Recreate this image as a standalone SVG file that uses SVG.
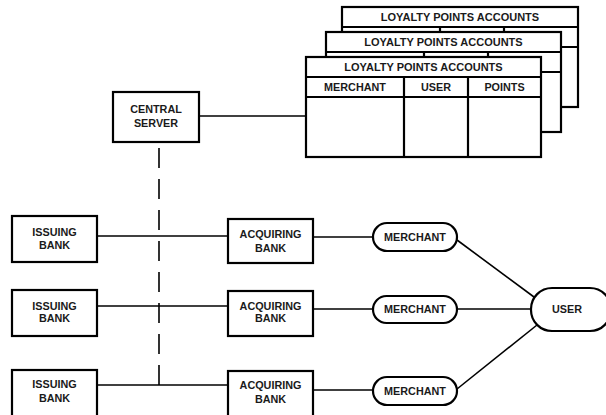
<svg xmlns="http://www.w3.org/2000/svg" width="606" height="415" viewBox="0 0 606 415">
<style>
.box{fill:#fff;stroke:#000;stroke-width:2.2}
.ln{fill:none;stroke:#000;stroke-width:1.6}
.th{fill:none;stroke:#000;stroke-width:2.2}
text{font-family:"Liberation Sans",Arial,sans-serif;font-weight:bold;font-size:10.8px;text-anchor:middle;fill:#1a1a1a}
.tt{font-size:11px}
</style>
<rect width="606" height="415" fill="#fff"/>
<g id="connectors">
<line class="ln" x1="199" y1="116" x2="306" y2="116"/>
<line class="ln" x1="159" y1="148" x2="159" y2="385" stroke-dasharray="20 11"/>
<line class="ln" x1="97" y1="236" x2="228" y2="236"/>
<line class="ln" x1="313" y1="237" x2="373" y2="237"/>
<line class="ln" x1="97" y1="306" x2="228" y2="306"/>
<line class="ln" x1="313" y1="309" x2="373" y2="309"/>
<line class="ln" x1="97" y1="385" x2="228" y2="385"/>
<line class="ln" x1="313" y1="390" x2="373" y2="390"/>
<line class="ln" x1="457" y1="240" x2="534" y2="297"/>
<line class="ln" x1="457" y1="309" x2="531" y2="309"/>
<line class="ln" x1="457" y1="389" x2="537" y2="325"/>
</g>
<g id="table-back" transform="translate(342,7)">
<rect class="box" x="0" y="0" width="236" height="100"/>
<line class="th" x1="0" y1="20" x2="236" y2="20"/>
<line class="th" x1="0" y1="40" x2="236" y2="40"/>
<line class="th" x1="98" y1="20" x2="98" y2="100"/>
<line class="th" x1="162" y1="20" x2="162" y2="100"/>
<text class="tt" x="118" y="14">LOYALTY POINTS ACCOUNTS</text>
</g>
<g id="table-mid" transform="translate(326,32)">
<rect class="box" x="0" y="0" width="235" height="100"/>
<line class="th" x1="0" y1="20" x2="235" y2="20"/>
<line class="th" x1="0" y1="40" x2="235" y2="40"/>
<line class="th" x1="98" y1="20" x2="98" y2="100"/>
<line class="th" x1="162" y1="20" x2="162" y2="100"/>
<text class="tt" x="117.5" y="14">LOYALTY POINTS ACCOUNTS</text>
</g>
<g id="table-front" transform="translate(306,57)">
<rect class="box" x="0" y="0" width="235" height="100"/>
<line class="th" x1="0" y1="20" x2="235" y2="20"/>
<line class="th" x1="0" y1="40" x2="235" y2="40"/>
<line class="th" x1="98" y1="20" x2="98" y2="100"/>
<line class="th" x1="162" y1="20" x2="162" y2="100"/>
<text class="tt" x="117.5" y="14">LOYALTY POINTS ACCOUNTS</text>
<text x="49" y="34">MERCHANT</text>
<text x="130" y="34">USER</text>
<text x="198.5" y="34">POINTS</text>
</g>
<g id="central-server">
<rect class="box" x="113" y="92" width="86" height="50"/>
<text x="156" y="113">CENTRAL</text>
<text x="156" y="127">SERVER</text>
</g>
<g id="issuing-bank-1">
<rect class="box" x="12" y="216" width="85" height="46"/>
<text x="54.5" y="236">ISSUING</text>
<text x="54.5" y="249">BANK</text>
</g>
<g id="issuing-bank-2">
<rect class="box" x="12" y="290" width="85" height="46"/>
<text x="54.5" y="310">ISSUING</text>
<text x="54.5" y="322">BANK</text>
</g>
<g id="issuing-bank-3">
<rect class="box" x="12" y="370" width="85" height="52"/>
<text x="54.5" y="388">ISSUING</text>
<text x="54.5" y="402">BANK</text>
</g>
<g id="acquiring-bank-1">
<rect class="box" x="228" y="219" width="85" height="44"/>
<text x="270.5" y="238">ACQUIRING</text>
<text x="270.5" y="252">BANK</text>
</g>
<g id="acquiring-bank-2">
<rect class="box" x="228" y="291" width="85" height="45"/>
<text x="270.5" y="310">ACQUIRING</text>
<text x="270.5" y="322">BANK</text>
</g>
<g id="acquiring-bank-3">
<rect class="box" x="228" y="371" width="85" height="52"/>
<text x="270.5" y="389">ACQUIRING</text>
<text x="270.5" y="403">BANK</text>
</g>
<g id="merchant-1">
<rect class="box" x="373" y="223" width="84" height="28" rx="14"/>
<text x="415" y="241">MERCHANT</text>
</g>
<g id="merchant-2">
<rect class="box" x="373" y="296" width="84" height="27" rx="13.5"/>
<text x="415" y="313">MERCHANT</text>
</g>
<g id="merchant-3">
<rect class="box" x="373" y="377" width="84" height="28" rx="14"/>
<text x="415" y="395">MERCHANT</text>
</g>
<g id="user">
<rect class="box" x="531" y="288" width="80" height="43" rx="21"/>
<text x="567" y="313">USER</text>
</g>
</svg>
